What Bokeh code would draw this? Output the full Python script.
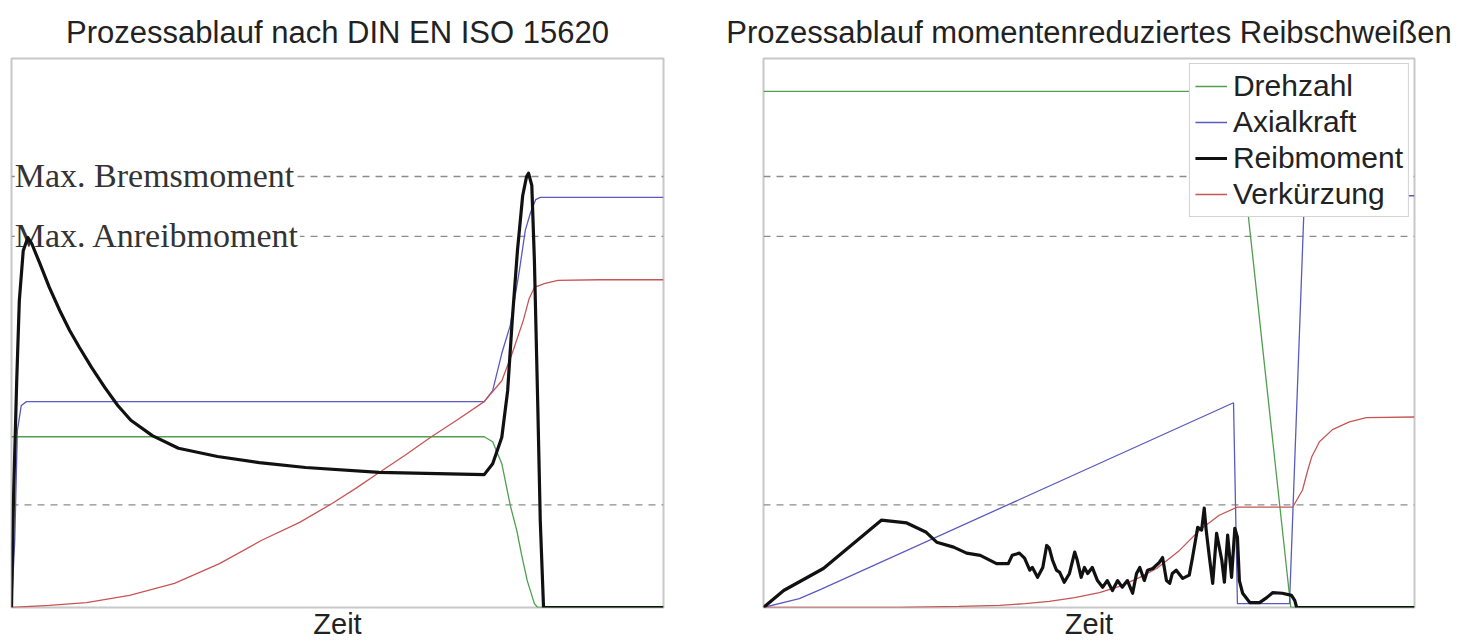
from bokeh.plotting import figure
from bokeh.layouts import row
from bokeh.models import (Range1d, Span, Label, Legend, LegendItem, LinearAxis,
                          FixedTicker)
from bokeh.embed import file_html
from bokeh.resources import INLINE

# ---------------- data: left chart (DIN EN ISO 15620) ----------------
l_t_drehzahl = [0, 72.5, 73.8, 75.2, 76.5, 77.5, 78.2, 79.1, 80.2, 80.7, 100]
l_drehzahl = [31.1, 31.1, 30.2, 26.2, 18.6, 14.0, 9.8, 4.9, 0.7, 0, 0]

l_t_axial = [0, 0.5, 0.9, 1.5, 2.3, 72.5, 73.8, 75.2, 76.5, 77.9, 78.8, 79.6, 80.4, 81.1, 100]
l_axial = [0, 12.2, 32.2, 36.8, 37.5, 37.5, 39.5, 46.3, 51.4, 61.4, 68.7, 71.9, 74.3, 74.7, 74.7]

l_t_verk = [0, 5.8, 11.5, 18.1, 25.0, 31.9, 38.3, 44.2, 49.1, 52.8, 56.4, 60.3, 64.4, 68.4, 72.5,
            75.2, 76.8, 78.5, 79.4, 80.2, 81.7, 83.8, 90.2, 100]
l_verk = [0, 0.4, 0.9, 2.2, 4.4, 8.0, 12.2, 15.5, 18.9, 21.7, 24.6, 27.7, 31.1, 34.2, 37.5,
          41.3, 46.3, 52.3, 56.3, 58.3, 59.0, 59.6, 59.7, 59.7]

l_t_reib = [0, 0.3, 0.8, 1.2, 1.8, 2.5, 3.1, 4.3, 5.8, 7.4, 8.9, 10.4, 12.3, 14.3, 16.3, 18.3,
            21.6, 25.6, 31.6, 38.0, 45.1, 56.4, 72.5, 73.8, 75.2, 76.1, 76.8, 77.6, 78.4, 79.0,
            79.3, 79.8, 80.2, 80.7, 81.1, 81.6, 100]
l_reib = [0, 19.5, 41.3, 55.9, 65.0, 67.4, 66.3, 62.8, 58.3, 54.1, 50.5, 47.4, 43.7, 40.1, 36.8, 34.1,
          31.3, 29.0, 27.5, 26.4, 25.5, 24.6, 24.2, 26.2, 31.0, 39.5, 52.3, 65.0, 75.0, 78.5,
          79.1, 76.9, 63.2, 37.7, 15.8, 0, 0]

# reference levels (dashed)
levels = [78.5, 67.6, 18.7]
level_labels = ["Max. Bremsmoment", "Max. Anreibmoment"]

# ---------------- data: right chart (momentenreduziert) ----------------
r_t_drehzahl = [0, 72.4, 81.0, 100]
r_drehzahl = [94.0, 94.0, 0, 0]

r_t_axial = [0, 5.5, 8.8, 72.2, 72.8, 80.8, 83.1, 100]
r_axial = [0, 1.6, 3.3, 37.3, 0.7, 0.7, 75.0, 75.0]

r_t_verk = [0, 20.9, 30.0, 36.3, 40.2, 43.9, 47.8, 51.6, 54.8, 57.8, 60.4, 63.9, 67.0, 70.0, 72.8,
            81.3, 82.8, 83.6, 84.2, 85.4, 87.4, 90.0, 92.6, 100]
r_verk = [0, 0, 0.2, 0.4, 0.7, 1.1, 1.8, 2.7, 3.9, 5.5, 7.1, 10.4, 14.1, 16.8, 18.3,
          18.3, 21.4, 25.0, 27.4, 30.2, 32.4, 33.8, 34.6, 34.7]

r_t_reib = [0, 3.1, 9.2, 18.1, 22.0, 25.0, 26.6, 29.2, 31.2, 33.3, 35.8, 37.6, 38.2, 39.3, 40.1,
            40.9, 41.3, 42.1, 42.9, 43.5, 43.9, 44.4, 45.0, 45.5, 46.2, 47.0, 47.8, 48.2, 48.8, 49.3,
            49.8, 50.5, 51.3, 52.1, 52.8, 53.6, 54.4, 55.1, 55.9, 56.7, 57.3, 57.8, 58.5, 59.0, 59.8,
            60.8, 61.3, 61.9, 62.4, 62.8, 63.4, 64.4, 65.4, 65.9, 66.7, 67.3, 67.7, 68.0, 68.5, 69.0,
            69.6, 70.4, 70.8, 71.3, 71.9, 72.4, 72.8, 73.1, 73.6, 74.7, 76.2, 77.3, 78.2, 79.7, 81.1,
            81.6, 81.9, 100]
r_reib = [0, 3.1, 7.1, 15.9, 15.4, 13.7, 11.9, 11.0, 9.9, 9.5, 8.0, 8.0, 9.5, 9.9, 9.0,
          6.8, 7.3, 5.5, 7.3, 11.3, 10.8, 8.6, 6.8, 6.4, 4.6, 6.2, 10.1, 8.6, 5.5, 7.3,
          6.2, 7.3, 4.9, 3.7, 4.9, 3.1, 4.9, 3.7, 4.9, 2.6, 6.2, 7.3, 4.9, 6.8, 7.1,
          8.2, 9.1, 4.9, 4.4, 6.2, 6.8, 5.3, 5.9, 9.1, 14.6, 14.1, 18.1, 14.1, 9.1, 4.4,
          13.5, 8.6, 4.6, 13.2, 5.5, 14.4, 12.8, 4.9, 2.6, 0.9, 0.9, 1.8, 2.7, 2.6, 2.2,
          1.3, 0, 0]

series_names = ["Drehzahl", "Axialkraft", "Reibmoment", "Verkürzung"]
titles = ["Prozessablauf nach DIN EN ISO 15620",
          "Prozessablauf momentenreduziertes Reibschweißen"]

C_GREEN = "#4f9f4f"
C_BLUE = "#5a5ac0"
C_RED = "#c85555"
C_BLACK = "#111111"
THIN = 1.3
THICK = 3.2

SANS = "Liberation Sans"
SERIF = "Liberation Serif"


def make_fig(width, border_left, border_right, title):
    p = figure(width=width, height=642, x_range=Range1d(0, 100), y_range=Range1d(0, 100),
               toolbar_location=None, output_backend="svg",
               x_axis_location=None, y_axis_location=None,
               min_border_left=border_left, min_border_right=border_right,
               min_border_top=58, min_border_bottom=29, title=title)
    p.title.text_font = SANS
    p.title.text_font_size = "31px"
    p.title.text_font_style = "normal"
    p.title.text_color = "#222222"
    p.title.align = "center"
    p.title.standoff = 18
    p.grid.visible = False
    p.outline_line_color = "#c8c8c8"
    p.outline_line_width = 2
    p.background_fill_color = "white"
    p.border_fill_color = "white"
    ax = LinearAxis(axis_label="Zeit", ticker=FixedTicker(ticks=[]),
                    axis_line_color=None, major_tick_line_color=None,
                    minor_tick_line_color=None, major_label_text_font_size="0px",
                    axis_label_text_font=SANS, axis_label_text_font_size="29px",
                    axis_label_text_font_style="normal", axis_label_text_color="#222222",
                    axis_label_standoff=0)
    p.add_layout(ax, "below")
    for lv in levels:
        p.add_layout(Span(location=lv, dimension="width", line_color="#8c8c8c",
                          line_width=1.4, line_dash="7 6", level="underlay"))
    return p


# ---------------- left figure ----------------
p1 = make_fig(699, 11, 36, titles[0])
for txt, lv in zip(level_labels, levels[:2]):
    p1.add_layout(Label(x=0.5, y=lv, text=txt, text_font=SERIF, text_font_size="34px",
                        text_color="#333333", text_baseline="alphabetic", y_offset=1,
                        background_fill_color="white", level="underlay"))
p1.line(l_t_drehzahl, l_drehzahl, line_color=C_GREEN, line_width=THIN)
p1.line(l_t_axial, l_axial, line_color=C_BLUE, line_width=THIN)
p1.line(l_t_verk, l_verk, line_color=C_RED, line_width=THIN)
p1.line(l_t_reib, l_reib, line_color=C_BLACK, line_width=THICK, line_join="round")

# ---------------- right figure ----------------
p2 = make_fig(756, 64, 41, titles[1])
g = p2.line(r_t_drehzahl, r_drehzahl, line_color=C_GREEN, line_width=THIN)
b = p2.line(r_t_axial, r_axial, line_color=C_BLUE, line_width=THIN)
rd = p2.line(r_t_verk, r_verk, line_color=C_RED, line_width=THIN)
k = p2.line(r_t_reib, r_reib, line_color=C_BLACK, line_width=THICK, line_join="round")

legend = Legend(items=[LegendItem(label=series_names[0], renderers=[g]),
                       LegendItem(label=series_names[1], renderers=[b]),
                       LegendItem(label=series_names[2], renderers=[k]),
                       LegendItem(label=series_names[3], renderers=[rd])],
                location="top_right", margin=5, padding=5, spacing=2,
                glyph_width=32, glyph_height=32, label_height=32, label_standoff=6,
                label_text_font=SANS, label_text_font_size="30px", label_text_color="#222222",
                border_line_color="#a8a8a8", border_line_width=1.5,
                background_fill_color="white", background_fill_alpha=1.0)
p2.add_layout(legend, "center")

layout = row(p1, p2)
open("out.html", "w").write(file_html(layout, INLINE))
